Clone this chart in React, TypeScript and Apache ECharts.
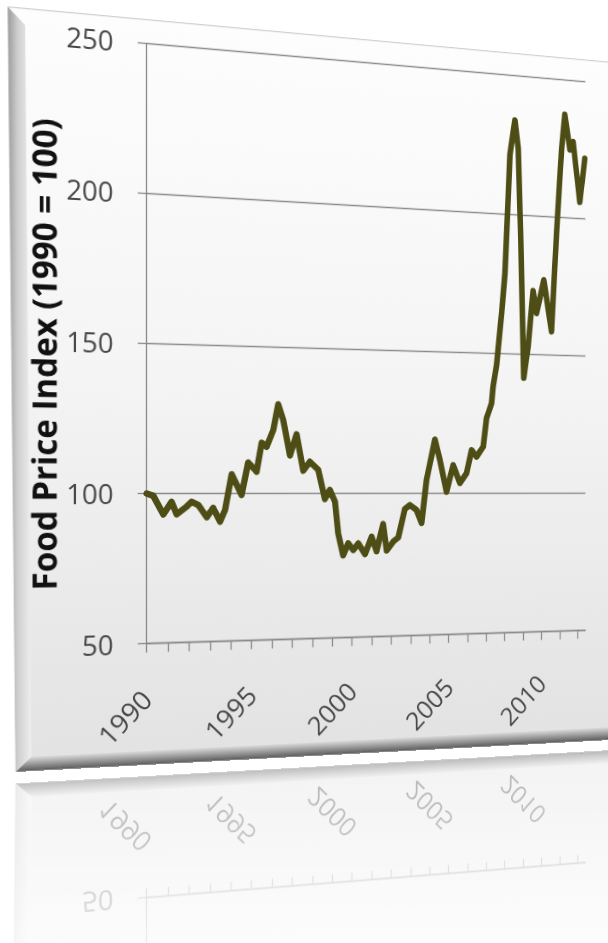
import React, { useEffect, useRef } from "react";
import * as echarts from "echarts";

// ---- data ----
const years = [
  1990.0, 1990.31, 1990.78, 1991.17, 1991.41, 1991.88, 1992.12, 1992.44, 1992.84, 1993.15,
  1993.48, 1993.72, 1994.04, 1994.52, 1994.84, 1995.25, 1995.5, 1995.74, 1996.07, 1996.31,
  1996.56, 1996.89, 1997.22, 1997.55, 1997.88, 1998.3, 1998.63, 1998.88, 1999.14, 1999.3,
  1999.55, 1999.81, 2000.06, 2000.32, 2000.66, 2001.0, 2001.25, 2001.59, 2001.77, 2002.11,
  2002.37, 2002.71, 2002.97, 2003.32, 2003.58, 2003.84, 2004.28, 2004.54, 2004.89, 2005.24,
  2005.6, 2005.95, 2006.22, 2006.48, 2006.84, 2007.02, 2007.29, 2007.37, 2007.56, 2007.83,
  2008.01, 2008.18, 2008.28, 2008.55, 2008.73, 2008.86, 2009.03, 2009.27, 2009.54, 2009.73,
  2010.13, 2010.55, 2010.83, 2011.11, 2011.29, 2011.57, 2011.75, 2012.12, 2012.4,
];
const foodIndex = [
  100.0, 99.2, 93.0, 97.2, 93.0, 95.6, 97.2, 96.1, 92.0, 95.1,
  90.5, 94.4, 106.5, 99.5, 110.5, 107.4, 117.3, 115.9, 121.7, 130.5,
  125.1, 113.0, 120.3, 107.8, 110.9, 108.1, 98.0, 101.2, 97.1, 86.2,
  78.5, 82.7, 80.3, 82.6, 78.8, 84.9, 79.8, 89.3, 80.0, 83.1,
  84.5, 94.5, 95.9, 94.1, 89.5, 104.7, 119.0, 111.8, 100.5, 110.0,
  103.6, 107.1, 115.4, 113.0, 116.6, 126.8, 132.2, 138.1, 146.0, 164.5,
  178.8, 205.2, 221.5, 234.0, 224.0, 193.5, 141.5, 153.0, 173.0, 164.9,
  177.1, 158.5, 194.3, 225.0, 237.5, 224.8, 227.8, 206.0, 222.0,
];
const tickYears = [
  1990, 1991, 1992, 1993, 1994, 1995, 1996, 1997, 1998, 1999, 2000, 2001,
  2002, 2003, 2004, 2005, 2006, 2007, 2008, 2009, 2010, 2011, 2012,
];
const labelYears = [1990, 1995, 2000, 2005, 2010];
const yTitle = "Food Price Index (1990 = 100)";

// ---- perspective set-up ----
const G = 1 / 5111;
const OX = 146.7;
const OY = 490;
const W = 720;
const H = 765;
const REFLECT = 561;

const FONT = "'Open Sans', 'Liberation Sans', sans-serif";
const AXIS_COLOR = "#8a8a8a";
const LABEL_COLOR = "#474747";

function cardElements(reflection: boolean) {
  const els: any[] = [
    {
      type: "polygon",
      z: -100,
      shape: { points: [[11.7, 19.7], [W, 19.7], [W, 764.6], [19.3, 764.6]] },
      style: {
        fill: new echarts.graphic.LinearGradient(0, 0, 0, 1, [
          { offset: 0, color: "#fdfdfd" },
          { offset: 0.45, color: "#f5f5f5" },
          { offset: 1, color: "#e2e2e2" },
        ]),
        stroke: "#c4c4c4",
        lineWidth: 1,
      },
    },
    {
      type: "polygon",
      z: -99,
      shape: { points: [[11.7, 19.7], [28, 36], [34, 751], [19.3, 764.6]] },
      style: {
        fill: new echarts.graphic.LinearGradient(0, 0, 1, 0, [
          { offset: 0, color: "#9c9c9c" },
          { offset: 0.4, color: "#cdcdcd" },
          { offset: 1, color: "#efefef" },
        ]),
      },
    },
    {
      type: "polygon",
      z: -99,
      shape: { points: [[19.3, 764.6], [34, 751], [W, 751], [W, 764.6]] },
      style: {
        fill: new echarts.graphic.LinearGradient(0, 0, 0, 1, [
          { offset: 0, color: "#dadada" },
          { offset: 0.5, color: "#9a9a9a" },
          { offset: 1, color: "#5a5a5a" },
        ]),
      },
    },
  ];
  if (!reflection) {
    els.push({
      type: "text",
      z: 10,
      x: 46,
      y: 357,
      rotation: Math.PI / 2,
      style: {
        text: yTitle,
        fontSize: 32.5,
        fontWeight: "bold",
        fontFamily: FONT,
        fill: "#111111",
        align: "center",
        verticalAlign: "middle",
      },
    });
  }
  return els;
}

function buildOption(reflection: boolean) {
  const data = years.map((y, i) => [y, foodIndex[i]]);
  return {
    animation: false,
    backgroundColor: "transparent",
    graphic: { elements: cardElements(reflection) },
    grid: { left: OX, top: 43.5, width: 479.8, height: 600 },
    xAxis: {
      type: "value",
      min: 1990,
      max: 2012.43,
      interval: 1,
      axisLine: { show: true, onZero: false, lineStyle: { color: AXIS_COLOR, width: 1.3 } },
      axisTick: {
        show: true,
        length: 9,
        customValues: tickYears,
        lineStyle: { color: AXIS_COLOR, width: 1.3 },
      },
      axisLabel: {
        customValues: labelYears,
        rotate: 45,
        margin: 51,
        color: LABEL_COLOR,
        fontSize: 27,
        fontFamily: FONT,
        formatter: (v: number) => String(v),
      },
      splitLine: { show: false },
    },
    yAxis: {
      type: "value",
      min: 50,
      max: 250,
      interval: 50,
      axisLine: { show: true, lineStyle: { color: AXIS_COLOR, width: 1.3 } },
      axisTick: { show: true, length: 9, lineStyle: { color: AXIS_COLOR, width: 1.3 } },
      axisLabel: {
        margin: 33,
        color: LABEL_COLOR,
        fontSize: 27,
        fontFamily: FONT,
        formatter: (v: number) => (reflection && v !== 50 ? "" : String(v)),
      },
      splitLine: { show: true, lineStyle: { color: AXIS_COLOR, width: 1.3 } },
    },
    series: reflection
      ? []
      : [
          {
            type: "line",
            data,
            symbol: "none",
            showSymbol: false,
            clip: false,
            lineStyle: { color: "#4d4d15", width: 6.5, join: "round", cap: "round" },
          },
        ],
  };
}

export default function App() {
  const mainRef = useRef<HTMLDivElement>(null);
  const reflRef = useRef<HTMLDivElement>(null);

  useEffect(() => {
    const a = echarts.init(mainRef.current as HTMLDivElement, undefined, { renderer: "svg" });
    a.setOption(buildOption(false) as any);
    const b = echarts.init(reflRef.current as HTMLDivElement, undefined, { renderer: "svg" });
    b.setOption(buildOption(true) as any);
    return () => {
      a.dispose();
      b.dispose();
    };
  }, []);

  const origin = `${OX}px ${OY}px`;
  const mainT = `matrix3d(1,0,0,${G},0,1,0,0,0,0,1,0,0,0,0,1)`;
  const reflT = `matrix3d(1,0,0,${G},0,-1,0,0,0,0,1,0,0,${REFLECT},0,1)`;

  return (
    <div
      style={{
        position: "fixed",
        left: 0,
        top: 0,
        width: 608,
        height: 943,
        overflow: "hidden",
        background: "#ffffff",
      }}
    >
      <div style={{ position: "absolute", left: 0, top: 0, width: 608, height: 943, opacity: 0.45 }}>
        <div
          ref={reflRef}
          style={{
            position: "absolute",
            left: 0,
            top: 0,
            width: W,
            height: H,
            transformOrigin: origin,
            transform: reflT,
          }}
        />
      </div>
      <div
        style={{
          position: "absolute",
          left: 0,
          top: 735,
          width: 608,
          height: 208,
          background: "linear-gradient(to bottom, rgba(255,255,255,0) 0%, rgba(255,255,255,0.65) 100%)",
        }}
      />
      <div
        ref={mainRef}
        style={{
          position: "absolute",
          left: 0,
          top: 0,
          width: W,
          height: H,
          transformOrigin: origin,
          transform: mainT,
        }}
      />
    </div>
  );
}
